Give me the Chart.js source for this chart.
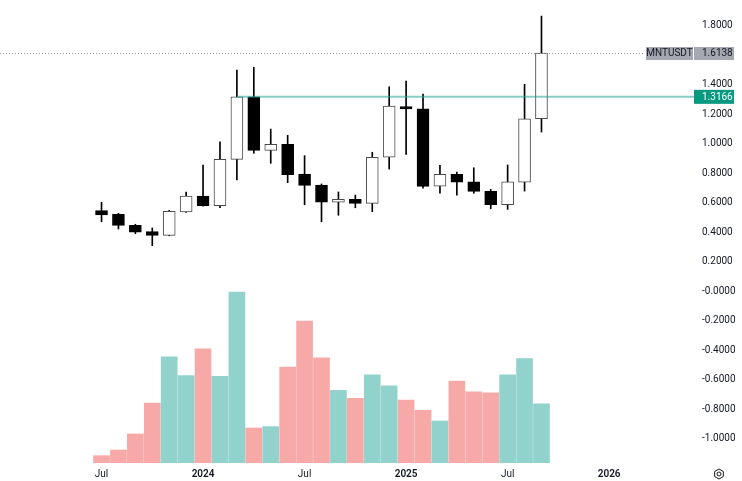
<!DOCTYPE html>
<html>
<head>
<meta charset="utf-8">
<script src="https://cdn.jsdelivr.net/npm/chart.js@4.4.1/dist/chart.umd.min.js"></script>
<style>
  html, body { margin: 0; padding: 0; background: #ffffff; }
  #wrap { width: 742px; height: 481px; }
</style>
</head>
<body>
<div id="wrap"><canvas id="chart" width="742" height="481"></canvas></div>
<script>
// monthly MNTUSDT candles, Jul 2023 .. Sep 2025
const months = ["2023-07","2023-08","2023-09","2023-10","2023-11","2023-12",
                "2024-01","2024-02","2024-03","2024-04","2024-05","2024-06",
                "2024-07","2024-08","2024-09","2024-10","2024-11","2024-12",
                "2025-01","2025-02","2025-03","2025-04","2025-05","2025-06",
                "2025-07","2025-08","2025-09"];
const open  = [0.545,0.520,0.446,0.403,0.378,0.536,0.644,0.579,0.893,1.3166,0.954,0.995,0.794,0.719,0.602,0.622,0.595,0.907,1.250,1.236,0.712,0.791,0.741,0.676,0.585,0.739,1.168];
const high  = [0.602,0.527,0.453,0.428,0.548,0.672,0.855,1.012,1.498,1.517,1.098,1.056,0.918,0.726,0.672,0.651,0.941,1.385,1.424,1.336,0.852,0.807,0.836,0.690,0.855,1.401,1.864];
const low   = [0.470,0.421,0.389,0.308,0.375,0.533,0.575,0.565,0.753,0.934,0.866,0.735,0.585,0.470,0.514,0.565,0.538,0.827,0.927,0.697,0.663,0.651,0.663,0.558,0.554,0.678,1.078];
const close = [0.516,0.446,0.400,0.378,0.541,0.644,0.579,0.893,1.3166,0.954,0.995,0.789,0.717,0.602,0.622,0.595,0.907,1.254,1.234,0.710,0.791,0.739,0.676,0.585,0.741,1.168,1.6138];
// relative volume (tallest month = 1000)
const volume = [43,76,170,351,621,511,668,508,1000,205,213,562,830,615,426,379,516,451,369,309,246,479,416,410,516,611,346];

const xTickValues = [0, 6, 12, 18, 24, 30];
const xTickLabels = ["Jul", "2024", "Jul", "2025", "Jul", "2026"];
const yTickValues = [1.8, 1.4, 1.2, 1.0, 0.8, 0.6, 0.4, 0.2, 0, -0.2, -0.4, -0.6, -0.8, -1.0];
const yTickLabels = ["1.8000","1.4000","1.2000","1.0000","0.8000","0.6000","0.4000","0.2000",
                     "-0.0000","-0.2000","-0.4000","-0.6000","-0.8000","-1.0000"];

const symbol = "MNTUSDT";
const levelIndex = 8;   // horizontal ray from the Mar 2024 close

const isUp = close.map((c, i) => c >= open[i]);
const FONT = "Roboto, 'Liberation Sans', sans-serif";

const overlay = {
  id: "overlay",
  afterDatasetsDraw(chart) {
    const ctx = chart.ctx;
    const y = chart.scales.y, x = chart.scales.x;
    const area = chart.chartArea;
    ctx.save();

    // last price dotted line + labels
    const last = close[close.length - 1];
    const yl = Math.round(y.getPixelForValue(last)) + 0.5;
    ctx.strokeStyle = "#9598a1";
    ctx.lineWidth = 1;
    ctx.setLineDash([1, 2]);
    ctx.beginPath();
    ctx.moveTo(area.left, yl);
    ctx.lineTo(area.right + 2, yl);
    ctx.stroke();
    ctx.setLineDash([]);

    ctx.font = "10px " + FONT;
    ctx.textBaseline = "middle";
    ctx.fillStyle = "#a5a8b1";
    ctx.fillRect(646, yl - 6.5, 47, 13);
    ctx.fillRect(694, yl - 6.5, 40, 13);
    ctx.fillStyle = "#131722";
    ctx.textAlign = "center";
    ctx.fillText(symbol, 669.5, yl);
    ctx.textAlign = "left";
    ctx.fillText(last.toFixed(4), 702, yl);

    // teal level ray
    const level = close[levelIndex];
    const yr = y.getPixelForValue(level);
    ctx.strokeStyle = "rgba(38,166,154,0.55)";
    ctx.lineWidth = 2;
    ctx.beginPath();
    ctx.moveTo(x.getPixelForValue(levelIndex), yr);
    ctx.lineTo(695, yr);
    ctx.stroke();
    ctx.fillStyle = "#089981";
    ctx.fillRect(694, yr - 7, 40, 14);
    ctx.fillStyle = "#ffffff";
    ctx.fillText(level.toFixed(4), 702, yr + 0.5);

    // settings icon
    ctx.strokeStyle = "#131722";
    ctx.lineWidth = 1;
    ctx.beginPath();
    for (let k = 0; k < 6; k++) {
      const a = Math.PI / 6 + k * Math.PI / 3;
      const px = 719 + 5 * Math.cos(a), py = 474 + 5 * Math.sin(a);
      if (k === 0) ctx.moveTo(px, py); else ctx.lineTo(px, py);
    }
    ctx.closePath();
    ctx.stroke();
    ctx.beginPath();
    ctx.arc(719, 474, 2, 0, Math.PI * 2);
    ctx.stroke();
    ctx.restore();
  }
};

// drop the label overhang padding so the plot fills the canvas
const noPad = (s) => { s.paddingTop = 0; s.paddingBottom = 0; s.paddingLeft = 0; s.paddingRight = 0; };

new Chart(document.getElementById("chart"), {
  type: "bar",
  data: {
    datasets: [
      {
        label: "body",
        order: 0,
        grouped: false,
        data: months.map((m, i) => ({ x: i, y: [open[i], close[i]] })),
        barThickness: 12,
        backgroundColor: isUp.map(u => u ? "#ffffff" : "#000000"),
        borderColor: isUp.map(u => u ? "#4a4a4a" : "#000000"),
        borderWidth: 1,
        borderSkipped: false
      },
      {
        label: "wick",
        order: 1,
        grouped: false,
        data: months.map((m, i) => ({ x: i, y: [low[i], high[i]] })),
        barThickness: 1,
        backgroundColor: "#000000"
      },
      {
        label: "volume",
        order: 2,
        grouped: false,
        yAxisID: "yv",
        data: months.map((m, i) => ({ x: i, y: volume[i] })),
        barThickness: 16,
        backgroundColor: isUp.map(u => u ? "rgba(38,166,154,0.5)" : "rgba(239,83,80,0.5)")
      }
    ]
  },
  options: {
    responsive: false,
    animation: false,
    layout: { padding: 0 },
    plugins: { legend: { display: false }, tooltip: { enabled: false } },
    scales: {
      x: {
        type: "linear",
        offset: false,
        min: -6,
        max: 32,
        grid: { display: false, drawTicks: false },
        border: { display: false },
        afterBuildTicks: (s) => { s.ticks = xTickValues.map(v => ({ value: v })); },
        afterFit: (s) => { s.height = 18; noPad(s); },
        ticks: {
          padding: 5,
          maxRotation: 0,
          autoSkip: false,
          color: "#131722",
          font: (c) => ({ family: FONT, size: 10, weight: xTickLabels[c.index] && /^\d/.test(xTickLabels[c.index]) ? "600" : "normal" }),
          callback: (v, i) => xTickLabels[i]
        }
      },
      y: {
        position: "right",
        min: -1.165,
        max: 1.973,
        grid: { display: false, drawTicks: false },
        border: { display: false },
        afterBuildTicks: (s) => { s.ticks = yTickValues.map(v => ({ value: v })); },
        afterFit: (s) => { s.width = 99; noPad(s); },
        ticks: {
          padding: 59,
          crossAlign: "near",
          color: "#131722",
          font: { family: FONT, size: 10 },
          callback: (v, i) => yTickLabels[i]
        }
      },
      yv: {
        display: false,
        min: 0,
        // volume pane fills the bottom ~37% of the plot
        max: Math.max(...volume) / 0.369
      }
    }
  },
  plugins: [overlay]
});
</script>
</body>
</html>
